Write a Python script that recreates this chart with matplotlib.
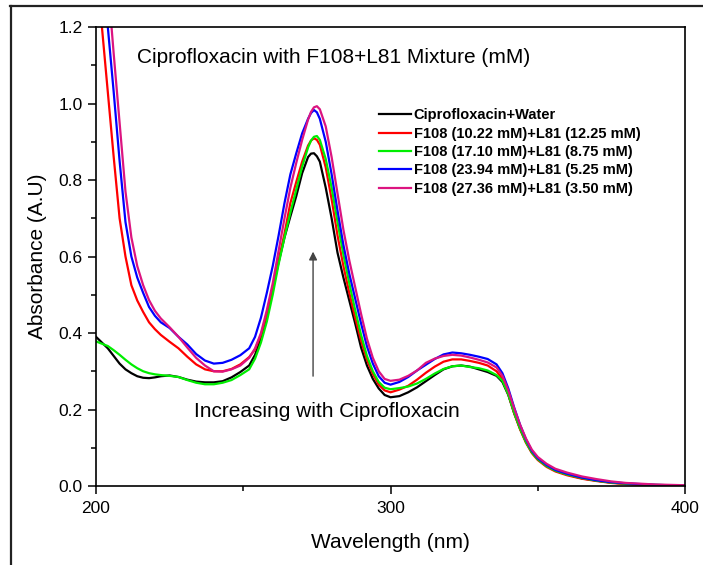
import matplotlib
matplotlib.use("Agg")
import matplotlib.pyplot as plt
from matplotlib.lines import Line2D
from matplotlib.ticker import MultipleLocator, FormatStrFormatter

plt.rcParams['font.family'] = ['Liberation Sans', 'DejaVu Sans']

wavelength = [200, 202, 204, 206, 208, 210, 212, 214, 216, 218, 220, 222, 225, 228,
              231, 234, 237, 240, 243, 246, 249, 252, 254, 256, 258, 260, 262, 264,
              266, 268, 270, 272, 273, 274, 275, 276, 278, 280, 282, 284, 286, 288, 290, 292,
              294, 296, 298, 300, 303, 306, 309, 312, 315, 318, 321, 324, 327, 330,
              333, 336, 338, 340, 342, 344, 346, 348, 350, 353, 356, 360, 365, 370,
              375, 380, 390, 400]

water = [0.39, 0.375, 0.36, 0.34, 0.32, 0.305, 0.295, 0.287, 0.283, 0.282, 0.284, 0.287, 0.289, 0.285,
         0.278, 0.273, 0.271, 0.271, 0.274, 0.284, 0.298, 0.315, 0.343, 0.385, 0.445, 0.515, 0.585, 0.65,
         0.705, 0.758, 0.818, 0.86, 0.869, 0.87, 0.862, 0.848, 0.78, 0.70, 0.61, 0.545, 0.485, 0.425, 0.362, 0.315,
         0.28, 0.255, 0.238, 0.232, 0.235, 0.245, 0.258, 0.274, 0.29, 0.305, 0.313, 0.315, 0.312, 0.305,
         0.298, 0.288, 0.272, 0.238, 0.19, 0.15, 0.115, 0.088, 0.07, 0.052, 0.04, 0.03, 0.02, 0.014,
         0.009, 0.006, 0.002, 0.0]

mix_1 = [1.38, 1.2, 1.03, 0.86, 0.7, 0.6, 0.525, 0.485, 0.455, 0.428, 0.41, 0.395, 0.377, 0.36,
         0.338, 0.318, 0.305, 0.3, 0.3, 0.306, 0.318, 0.337, 0.357, 0.395, 0.45, 0.52, 0.59, 0.66,
         0.74, 0.795, 0.848, 0.89, 0.903, 0.909, 0.905, 0.892, 0.833, 0.75, 0.655, 0.575, 0.505, 0.44, 0.38, 0.33,
         0.293, 0.265, 0.25, 0.245, 0.252, 0.262, 0.278, 0.296, 0.312, 0.325, 0.331, 0.331, 0.327, 0.322,
         0.315, 0.3, 0.28, 0.24, 0.19, 0.148, 0.113, 0.086, 0.068, 0.05, 0.038, 0.028, 0.019, 0.013,
         0.008, 0.005, 0.002, 0.0]

mix_2 = [0.378, 0.372, 0.366, 0.355, 0.343, 0.33, 0.318, 0.308, 0.3, 0.295, 0.292, 0.29, 0.288, 0.285,
         0.277, 0.27, 0.266, 0.266, 0.27, 0.277, 0.29, 0.305, 0.333, 0.375, 0.43, 0.5, 0.58, 0.65,
         0.715, 0.775, 0.835, 0.885, 0.903, 0.913, 0.915, 0.905, 0.855, 0.78, 0.69, 0.605, 0.53, 0.46, 0.395, 0.34,
         0.3, 0.272, 0.257, 0.253, 0.256, 0.26, 0.268, 0.28, 0.294, 0.306, 0.313, 0.315, 0.311, 0.308,
         0.302, 0.29, 0.275, 0.24, 0.192, 0.15, 0.115, 0.088, 0.07, 0.052, 0.04, 0.03, 0.021, 0.014,
         0.009, 0.006, 0.003, 0.001]

mix_3 = [1.55, 1.37, 1.2, 1.03, 0.85, 0.69, 0.6, 0.545, 0.505, 0.468, 0.445, 0.428, 0.413, 0.39,
         0.37, 0.345, 0.328, 0.32, 0.322, 0.33, 0.342, 0.36, 0.39, 0.44, 0.505, 0.575, 0.655, 0.74,
         0.815, 0.87, 0.922, 0.96, 0.975, 0.983, 0.977, 0.96, 0.9, 0.815, 0.72, 0.63, 0.555, 0.49, 0.425, 0.365,
         0.32, 0.287, 0.27, 0.265, 0.272, 0.285, 0.302, 0.317, 0.332, 0.344, 0.349, 0.347, 0.343, 0.338,
         0.332, 0.318, 0.295, 0.255, 0.205, 0.16, 0.122, 0.092, 0.073, 0.055, 0.042, 0.032, 0.022, 0.015,
         0.01, 0.007, 0.003, 0.001]

mix_4 = [1.7, 1.5, 1.32, 1.13, 0.95, 0.77, 0.65, 0.575, 0.525, 0.486, 0.458, 0.438, 0.415, 0.39,
         0.362, 0.335, 0.315, 0.3, 0.299, 0.305, 0.315, 0.335, 0.36, 0.4, 0.46, 0.53, 0.615, 0.7,
         0.78, 0.845, 0.905, 0.958, 0.978, 0.99, 0.993, 0.985, 0.94, 0.86, 0.765, 0.67, 0.59, 0.52, 0.45, 0.385,
         0.335, 0.3, 0.28, 0.275, 0.278, 0.288, 0.302, 0.322, 0.333, 0.34, 0.343, 0.341, 0.336, 0.33,
         0.323, 0.31, 0.288, 0.25, 0.203, 0.16, 0.124, 0.095, 0.076, 0.058, 0.045, 0.035, 0.025, 0.018,
         0.012, 0.008, 0.004, 0.002]

labels = ["Ciprofloxacin+Water",
          "F108 (10.22 mM)+L81 (12.25 mM)",
          "F108 (17.10 mM)+L81 (8.75 mM)",
          "F108 (23.94 mM)+L81 (5.25 mM)",
          "F108 (27.36 mM)+L81 (3.50 mM)"]
colors = ['#000000', '#ff0000', '#00ee00', '#0000ff', '#dc1480']
series = [water, mix_1, mix_2, mix_3, mix_4]

fig = plt.figure(figsize=(7.03, 5.65), dpi=100)
ax = fig.add_axes([0.1366, 0.1398, 0.8378, 0.8124])

for y, c, lab in zip(series, colors, labels):
    ax.plot(wavelength, y, color=c, linewidth=1.6, label=lab)

ax.set_xlim(200, 400)
ax.set_ylim(0, 1.2)
ax.xaxis.set_major_locator(MultipleLocator(100))
ax.xaxis.set_minor_locator(MultipleLocator(50))
ax.yaxis.set_major_locator(MultipleLocator(0.2))
ax.yaxis.set_minor_locator(MultipleLocator(0.1))
ax.yaxis.set_major_formatter(FormatStrFormatter('%.1f'))
ax.tick_params(which='major', direction='out', length=6, width=1.1, labelsize=12.5)
ax.tick_params(axis='x', which='major', pad=5)
ax.tick_params(which='minor', direction='out', length=3.5, width=1.1)
for s in ax.spines.values():
    s.set_linewidth(1.2)

ax.set_xlabel("Wavelength (nm)", fontsize=15, labelpad=12)
ax.set_ylabel("Absorbance (A.U)", fontsize=15, labelpad=8)

ax.text(214, 1.12, "Ciprofloxacin with F108+L81 Mixture (mM)", fontsize=15, va='center')
ax.text(278.5, 0.196, "Increasing with Ciprofloxacin", fontsize=15, ha='center', va='center')
ax.annotate("", xy=(273.7, 0.62), xytext=(273.7, 0.28),
            arrowprops=dict(arrowstyle='-|>', color='#444444', lw=1.0, mutation_scale=12))

ax.legend(loc='upper left', bbox_to_anchor=(0.48, 0.823), frameon=False,
          prop={'weight': 'bold', 'size': 10.5}, handlelength=2.2, handletextpad=0.2,
          labelspacing=0.3, borderpad=0, borderaxespad=0)

# outer frame (top and left edges only)
fig.add_artist(Line2D([10 / 703, 1.0], [1 - 6 / 565, 1 - 6 / 565], color='#222222', lw=1.6))
fig.add_artist(Line2D([11 / 703, 11 / 703], [0.0, 1 - 6 / 565], color='#222222', lw=1.6))

fig.savefig("out.png", dpi=100)
